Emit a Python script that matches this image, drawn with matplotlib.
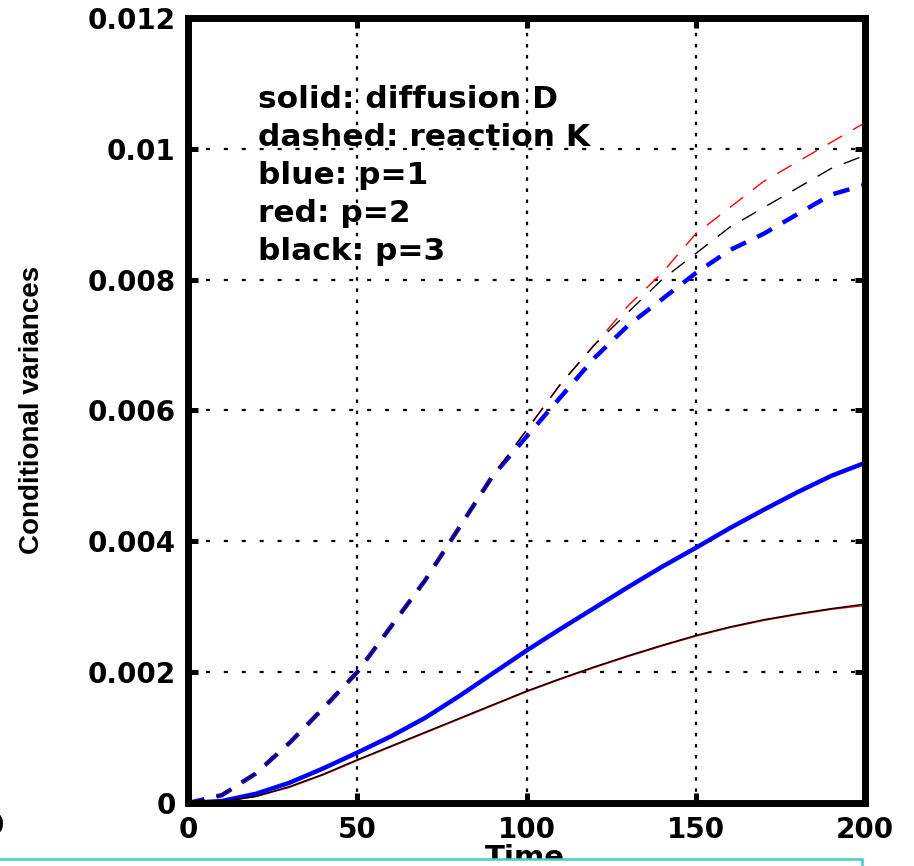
import numpy as np
import matplotlib
matplotlib.use("Agg")
import matplotlib.pyplot as plt
from matplotlib import font_manager
from matplotlib.patches import Rectangle

# datos
t = [0, 10, 20, 30, 40, 50, 60, 70, 80, 90, 100,
     110, 120, 130, 140, 150, 160, 170, 180, 190, 200]

# difusion D (solido)
D_p1 = [0, 0.00003, 0.00014, 0.00031, 0.00053, 0.00077, 0.00102, 0.0013, 0.00163, 0.00198, 0.00233,
        0.00266, 0.00298, 0.0033, 0.00361, 0.0039, 0.0042, 0.00448, 0.00475, 0.005, 0.0052]
D_p2 = [0, 0.00002, 0.0001, 0.00024, 0.00043, 0.00065, 0.00086, 0.00107, 0.00128, 0.00149, 0.0017,
        0.00189, 0.00207, 0.00224, 0.0024, 0.00255, 0.00268, 0.00279, 0.00288, 0.00296, 0.00302]
D_p3 = [0, 0.00002, 0.0001, 0.00025, 0.00044, 0.00066, 0.00087, 0.00108, 0.00129, 0.0015, 0.00171,
        0.0019, 0.00208, 0.00225, 0.00241, 0.00256, 0.00269, 0.0028, 0.00289, 0.00297, 0.00304]

# reaccion K (discontinuo)
K_p1 = [0, 0.00012, 0.00045, 0.00092, 0.00145, 0.002, 0.0027, 0.0034, 0.0042, 0.005, 0.0056,
        0.0062, 0.0068, 0.0073, 0.0077, 0.0081, 0.00845, 0.0087, 0.009, 0.0093, 0.00945]
K_p2 = [0, 0.00012, 0.00045, 0.00092, 0.00145, 0.002, 0.0027, 0.0034, 0.0042, 0.005, 0.0057,
        0.0064, 0.007, 0.0076, 0.0081, 0.0087, 0.0091, 0.0095, 0.0098, 0.0101, 0.0104]
K_p3 = [0, 0.00012, 0.00045, 0.00092, 0.00145, 0.002, 0.0027, 0.0034, 0.0042, 0.005, 0.0057,
        0.0064, 0.007, 0.0075, 0.008, 0.0084, 0.0088, 0.0091, 0.0094, 0.0097, 0.0099]

xticks = [0, 50, 100, 150, 200]
yticks = [0, 0.002, 0.004, 0.006, 0.008, 0.01, 0.012]
ytick_labels = ['0', '0.002', '0.004', '0.006', '0.008', '0.01', '0.012']
notes = ['solid: diffusion D', 'dashed: reaction K', 'blue: p=1', 'red: p=2', 'black: p=3']

plt.rcParams['lines.scale_dashes'] = False
plt.rcParams['font.family'] = ['DejaVu Sans']

names = {f.name for f in font_manager.fontManager.ttflist}
ylab_font = 'Liberation Sans Narrow' if 'Liberation Sans Narrow' in names else 'Liberation Sans'

W, H = 914, 866
fig = plt.figure(figsize=(W / 100, H / 100), dpi=100)
ax = fig.add_axes([188 / W, 1 - 803 / H, (865 - 188) / W, (803 - 18) / H])

# lineas
ax.plot(t, D_p1, color='#0000ff', lw=3.2, solid_capstyle='butt')
ax.plot(t, K_p1, color='#0000ff', lw=3.2, linestyle=(0, (12, 9)), dash_capstyle='butt')
ax.plot(t, D_p2, color='#ff0000', lw=1.0)
ax.plot(t, K_p2, color='#ff0000', lw=1.0, linestyle=(0, (12, 9)))
ax.plot(t, D_p3, color='k', lw=1.1)
ax.plot(t, K_p3, color='k', lw=1.0, linestyle=(0, (12, 9)))

ax.set_xlim(0, 200)
ax.set_ylim(0, 0.012)
ax.set_xticks(xticks)
ax.set_xticklabels([str(v) for v in xticks])
ax.set_yticks(yticks)
ax.set_yticklabels(ytick_labels)

# rejilla punteada
ax.xaxis.grid(True, color='k', lw=1.6, linestyle=(0, (2.5, 5.5)))
ax.yaxis.grid(True, color='k', lw=1.6, linestyle=(0, (2.9, 10.0)))

for s in ax.spines.values():
    s.set_linewidth(5)
ax.tick_params(direction='in', length=7, width=3.6, top=True, right=True, pad=9)
for lab in ax.get_xticklabels() + ax.get_yticklabels():
    lab.set_fontsize(20)
    lab.set_fontweight('bold')

# notas
for i, txt in enumerate(notes):
    ax.text((258 - 188) / 677, (803 - 100 - 37.8 * i) / 785, txt, transform=ax.transAxes,
            fontsize=22.5, fontweight='bold', ha='left', va='center')

fig.text(32 / W, 1 - 410 / H, 'Conditional variances', rotation=90, ha='center', va='center',
         fontsize=20, fontweight='bold', family=[ylab_font, 'DejaVu Sans'])
fig.text(525 / W, 1 - 858 / H, 'Time', ha='center', va='center', fontsize=21, fontweight='bold')
fig.text(4 / W, 1 - 826 / H, '0', ha='right', va='center', fontsize=20, fontweight='bold')

# recuadro cian de abajo
box = Rectangle((-0.02, -0.05), (862 + 18) / W, 0.05 + 1 - 859 / H, transform=fig.transFigure,
                facecolor='white', edgecolor='#3fd0c6', lw=1.8, zorder=10)
fig.patches.append(box)

fig.savefig('out.png', dpi=100)
